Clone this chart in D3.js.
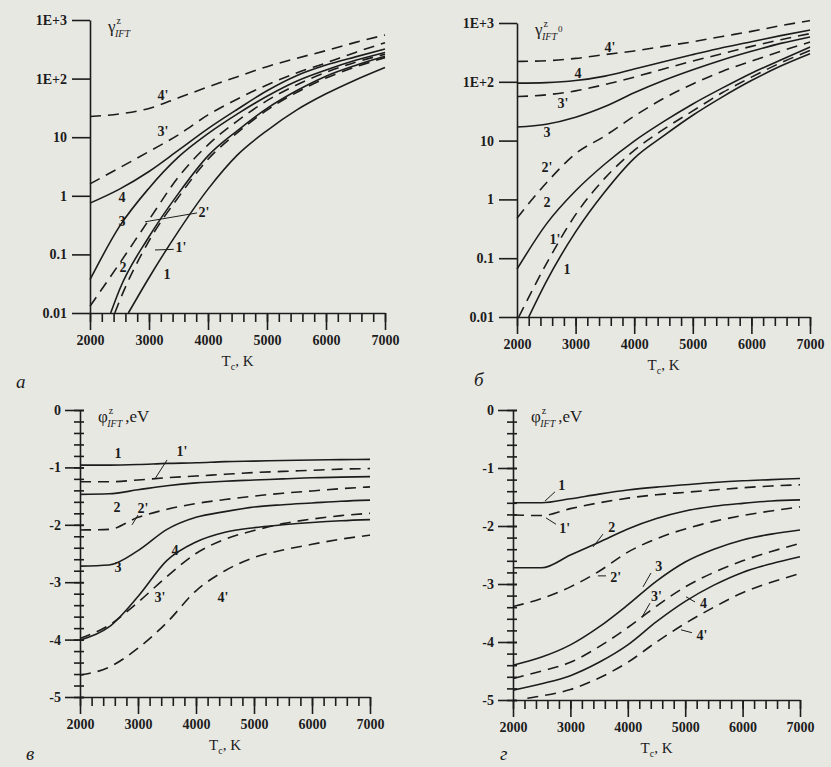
<!DOCTYPE html>
<html>
<head>
<meta charset="utf-8">
<script src="https://d3js.org/d3.v7.min.js"></script>
<style>
  body { margin: 0; background: #e8e8e3; }
  svg text { font-family: "Liberation Serif", "Times New Roman", serif; fill: #1c1c1c; }
</style>
</head>
<body>
<svg id="fig" width="831" height="767"></svg>
<script>
// temperature grid (K) used by most curves
const T = [2000, 2500, 3000, 3500, 4000, 4500, 5000, 5500, 6000, 6500, 7000];
const xMajor = [2000, 3000, 4000, 5000, 6000, 7000];
const logTicks = [0.01, 0.1, 1, 10, 100, 1000];
const logTickLabels = ["0.01", "0.1", "1", "10", "1E+2", "1E+3"];
const phiTicks = [0, -1, -2, -3, -4, -5];

// panel a: gamma (log)
const a4p = [22.5, 25, 31, 47, 72, 108, 160, 222, 300, 415, 555];
const a3p = [1.6, 3.0, 5.7, 11, 24, 45, 78, 125, 185, 280, 410];
const a4  = [0.75, 1.3, 2.6, 6.0, 14, 30, 62, 112, 170, 235, 320];
const a3  = [0.037, 0.30, 1.35, 4.6, 11.5, 25, 50, 90, 140, 205, 280];
const a2p = [0.013, 0.07, 0.39, 2.1, 7.4, 19, 42, 78, 128, 190, 260];
const a2  = [[2350, 0.01], [2500, 0.025], [3000, 0.2], [3500, 1.1], [4000, 4.8], [4500, 13], [5000, 31], [5500, 62], [6000, 110], [6500, 168], [7000, 240]];
const a1p = [[2420, 0.01], [2500, 0.016], [3000, 0.17], [3500, 0.95], [4000, 4.2], [4500, 12], [5000, 29], [5500, 58], [6000, 102], [6500, 158], [7000, 228]];
const a1  = [[2650, 0.01], [3000, 0.04], [3500, 0.25], [4000, 1.3], [4500, 5], [5000, 13], [5500, 29], [6000, 55], [6500, 95], [7000, 155]];

// panel b: gamma0 (log)
const b4p = [222, 228, 250, 290, 335, 400, 480, 590, 720, 900, 1100];
const b4  = [95, 97, 105, 125, 165, 220, 290, 380, 480, 610, 760];
const b3p = [56, 60, 70, 90, 120, 165, 225, 300, 400, 520, 660];
const b3  = [17, 19, 25, 38, 65, 105, 160, 235, 330, 450, 580];
const b2p = [0.48, 1.9, 6, 12, 26, 52, 92, 150, 225, 330, 475];
const b2  = [0.065, 0.38, 1.4, 4.0, 9.8, 21, 42, 78, 140, 235, 390];
const b1p = [[2030, 0.01], [2500, 0.08], [3000, 0.55], [3500, 2.3], [4000, 6.8], [4500, 15.5], [5000, 32], [5500, 65], [6000, 120], [6500, 210], [7000, 340]];
const b1  = [[2200, 0.01], [2500, 0.04], [3000, 0.28], [3500, 1.35], [4000, 5.0], [4500, 12], [5000, 27], [5500, 55], [6000, 105], [6500, 185], [7000, 300]];

// panel v: phi, eV
const c1  = [-0.96, -0.96, -0.95, -0.93, -0.92, -0.90, -0.89, -0.88, -0.87, -0.865, -0.86];
const c1p = [-1.25, -1.25, -1.22, -1.18, -1.15, -1.12, -1.09, -1.07, -1.05, -1.03, -1.02];
const c2  = [-1.47, -1.46, -1.39, -1.32, -1.27, -1.24, -1.22, -1.20, -1.18, -1.17, -1.16];
const c2p = [-2.09, -2.08, -1.87, -1.73, -1.63, -1.56, -1.50, -1.45, -1.41, -1.37, -1.34];
const c3  = [-2.72, -2.70, -2.45, -2.08, -1.87, -1.77, -1.69, -1.65, -1.62, -1.59, -1.57];
const c3p = [-3.98, -3.75, -3.35, -2.90, -2.50, -2.25, -2.10, -1.98, -1.90, -1.84, -1.80];
const c4  = [-4.01, -3.78, -3.25, -2.62, -2.30, -2.13, -2.05, -2.00, -1.96, -1.93, -1.91];
const c4p = [-4.62, -4.48, -4.15, -3.70, -3.15, -2.80, -2.57, -2.44, -2.34, -2.25, -2.18];

// panel g: phi, eV
const pg1  = [-1.60, -1.60, -1.53, -1.45, -1.38, -1.33, -1.29, -1.25, -1.22, -1.20, -1.18];
const pg1p = [-1.81, -1.82, -1.70, -1.60, -1.52, -1.46, -1.42, -1.38, -1.34, -1.31, -1.29];
const pg2  = [-2.72, -2.72, -2.50, -2.28, -2.05, -1.87, -1.74, -1.66, -1.61, -1.57, -1.55];
const pg2p = [-3.39, -3.25, -3.05, -2.78, -2.45, -2.22, -2.05, -1.92, -1.82, -1.74, -1.67];
const pg3  = [-4.40, -4.26, -4.05, -3.74, -3.36, -2.95, -2.62, -2.40, -2.24, -2.14, -2.07];
const pg3p = [-4.63, -4.50, -4.35, -4.08, -3.75, -3.38, -3.05, -2.80, -2.60, -2.44, -2.30];
const pg4  = [-4.83, -4.72, -4.58, -4.35, -4.05, -3.65, -3.30, -3.02, -2.80, -2.65, -2.53];
const pg4p = [[2250, -4.97], [2500, -4.93], [3000, -4.82], [3500, -4.62], [4000, -4.35], [4500, -4.00], [5000, -3.68], [5500, -3.40], [6000, -3.15], [6500, -2.97], [7000, -2.82]];

const zip = vals => T.map((t, i) => [t, vals[i]]);

// curve labels: [text, T, value], leaders: [T1, v1, T2, v2]
const labelsA = [["4'", 3237, 52], ["3'", 3237, 12.3], ["4", 2542, 0.95], ["3", 2542, 0.36],
                 ["2'", 3930, 0.51], ["1'", 3540, 0.13], ["2", 2559, 0.059], ["1", 3305, 0.045]];
const leadersA = [[3814, 0.51, 2932, 0.36], [3420, 0.122, 3102, 0.119]];
const labelsB = [["4'", 3587, 390], ["4", 3041, 141], ["3'", 2785, 43], ["3", 2512, 14],
                 ["2'", 2512, 3.55], ["2", 2512, 0.87], ["1'", 2649, 0.204], ["1", 2853, 0.063]];
const labelsC = [["1", 2655, -0.75], ["1'", 3759, -0.73], ["2", 2638, -1.69], ["2'", 3086, -1.71],
                 ["3", 2655, -2.75], ["4", 3638, -2.44], ["3'", 3379, -3.26], ["4'", 4466, -3.26]];
const leadersC = [[3500, -0.87, 3293, -1.20], [3000, -1.83, 2897, -2.0]];
const labelsD = [["1", 2850, -1.30], ["1'", 2900, -2.05], ["2", 3720, -2.03], ["2'", 3790, -2.88],
                 ["3", 4540, -2.70], ["3'", 4500, -3.22], ["4", 5320, -3.33], ["4'", 5290, -3.88]];
const leadersD = [[2732, -1.41, 2557, -1.57], [2749, -1.97, 2575, -1.86], [3568, -2.14, 3394, -2.36],
                  [3480, -2.86, 3620, -2.86], [4404, -2.81, 4265, -3.05], [4387, -3.33, 4247, -3.57],
                  [5171, -3.31, 5014, -3.22], [5118, -3.84, 4927, -3.79]];

const svg = d3.select("#fig");
const ink = "#1c1c1c";

function drawPanel(p) {
  const g = svg.append("g");
  const x = d3.scaleLinear([2000, 7000], [p.left, p.right]);
  const y = p.log ? d3.scaleLog([0.01, 1000], [p.bottom, p.top])
                  : d3.scaleLinear([-5, 0], [p.bottom, p.top]);

  // x axis: minor ticks every 200 K, major every 1000 K
  g.append("g").attr("transform", `translate(0,${p.bottom})`)
    .call(d3.axisBottom(x).tickValues(d3.range(2000, 7001, 200)).tickSize(9).tickFormat(""))
    .call(a => a.select(".domain").remove());
  g.append("g").attr("transform", `translate(0,${p.bottom})`)
    .call(d3.axisBottom(x).tickValues(xMajor).tickSize(17).tickSizeOuter(0).tickPadding(5).tickFormat(d => String(d)))
    .call(a => a.selectAll("text").attr("font-size", 14).attr("font-weight", "bold"));

  // y axis
  if (p.log) {
    g.append("g").attr("transform", `translate(${p.left},0)`)
      .call(d3.axisLeft(y).tickValues(logTicks).tickSize(18).tickSizeOuter(0).tickPadding(5)
        .tickFormat((d, i) => logTickLabels[i]))
      .call(a => a.selectAll("text").attr("font-size", 14).attr("font-weight", "bold"));
  } else {
    g.append("g").attr("transform", `translate(${p.left},0)`)
      .call(d3.axisLeft(y).tickValues(d3.range(-5, 0.001, 0.2)).tickSize(6).tickFormat(""))
      .call(a => a.select(".domain").remove())
      .call(a => a.selectAll("line").attr("x2", -6).attr("x1", 4));
    g.append("g").attr("transform", `translate(${p.left},0)`)
      .call(d3.axisLeft(y).tickValues(phiTicks).tickSize(15).tickSizeOuter(0).tickPadding(4).tickFormat(d => String(d)))
      .call(a => a.selectAll("line").attr("x1", 4))
      .call(a => a.selectAll("text").attr("font-size", 14).attr("font-weight", "bold"));
  }
  g.selectAll(".domain, .tick line").attr("stroke", ink).attr("stroke-width", 1.6);

  // curves
  const line = d3.line().x(d => x(d[0])).y(d => y(d[1])).curve(d3.curveMonotoneX);
  g.selectAll(".curve").data(p.series).join("path")
    .attr("class", "curve")
    .attr("d", s => line(s.pts))
    .attr("fill", "none")
    .attr("stroke", ink)
    .attr("stroke-width", 1.6)
    .attr("stroke-dasharray", s => s.dash ? "11,7" : null);

  // curve labels and leader lines
  g.selectAll(".lbl").data(p.labels).join("text")
    .attr("class", "lbl")
    .attr("x", d => x(d[1])).attr("y", d => y(d[2]))
    .attr("text-anchor", "middle").attr("dominant-baseline", "central")
    .attr("font-size", 14).attr("font-weight", "bold")
    .text(d => d[0]);
  g.selectAll(".lead").data(p.leaders || []).join("line")
    .attr("class", "lead")
    .attr("x1", d => x(d[0])).attr("y1", d => y(d[1]))
    .attr("x2", d => x(d[2])).attr("y2", d => y(d[3]))
    .attr("stroke", ink).attr("stroke-width", 1);

  // y title
  const t = g.append("text").attr("x", p.left + 18).attr("y", p.top + 12).attr("font-size", 17);
  t.append("tspan").text(p.sym);
  t.append("tspan").attr("font-size", 10).attr("dy", -8).attr("dx", 1).text("z");
  t.append("tspan").attr("font-size", 10).attr("font-style", "italic").attr("dy", 13).attr("dx", -6).text("IFT");
  if (p.extra) t.append("tspan").attr("font-size", 9).attr("dy", -8).attr("dx", 1).text(p.extra);
  if (p.unit) t.append("tspan").attr("font-size", 17).attr("dy", -5).attr("dx", 3).text(p.unit);

  // x title
  const xt = g.append("text").attr("x", (p.left + p.right) / 2).attr("y", p.bottom + 53)
    .attr("text-anchor", "middle").attr("font-size", 15);
  xt.append("tspan").text("T");
  xt.append("tspan").attr("font-size", 10).attr("dy", 4).text("c");
  xt.append("tspan").attr("dy", -4).text(", K");

  // panel letter
  svg.append("text").attr("x", p.letterX).attr("y", p.letterY)
    .attr("font-size", 19).attr("font-style", "italic").text(p.letter);
}

drawPanel({
  left: 90, right: 385, top: 20, bottom: 313, log: true, sym: "γ",
  letter: "а", letterX: 16, letterY: 388,
  series: [
    { dash: true, pts: zip(a4p) }, { dash: true, pts: zip(a3p) },
    { dash: false, pts: zip(a4) }, { dash: false, pts: zip(a3) },
    { dash: true, pts: zip(a2p) }, { dash: false, pts: a2 },
    { dash: true, pts: a1p }, { dash: false, pts: a1 }
  ],
  labels: labelsA, leaders: leadersA
});

drawPanel({
  left: 517, right: 810, top: 23, bottom: 317, log: true, sym: "γ", extra: "0",
  letter: "б", letterX: 474, letterY: 386,
  series: [
    { dash: true, pts: zip(b4p) }, { dash: false, pts: zip(b4) },
    { dash: true, pts: zip(b3p) }, { dash: false, pts: zip(b3) },
    { dash: true, pts: zip(b2p) }, { dash: false, pts: zip(b2) },
    { dash: true, pts: b1p }, { dash: false, pts: b1 }
  ],
  labels: labelsB
});

drawPanel({
  left: 80, right: 370, top: 410, bottom: 697, log: false, sym: "φ", unit: ",eV",
  letter: "в", letterX: 26, letterY: 760,
  series: [
    { dash: false, pts: zip(c1) }, { dash: true, pts: zip(c1p) },
    { dash: false, pts: zip(c2) }, { dash: true, pts: zip(c2p) },
    { dash: false, pts: zip(c3) }, { dash: true, pts: zip(c3p) },
    { dash: false, pts: zip(c4) }, { dash: true, pts: zip(c4p) }
  ],
  labels: labelsC, leaders: leadersC
});

drawPanel({
  left: 513, right: 800, top: 410, bottom: 700, log: false, sym: "φ", unit: ",eV",
  letter: "г", letterX: 500, letterY: 760,
  series: [
    { dash: false, pts: zip(pg1) }, { dash: true, pts: zip(pg1p) },
    { dash: false, pts: zip(pg2) }, { dash: true, pts: zip(pg2p) },
    { dash: false, pts: zip(pg3) }, { dash: true, pts: zip(pg3p) },
    { dash: false, pts: zip(pg4) }, { dash: true, pts: pg4p }
  ],
  labels: labelsD, leaders: leadersD
});
</script>
</body>
</html>
